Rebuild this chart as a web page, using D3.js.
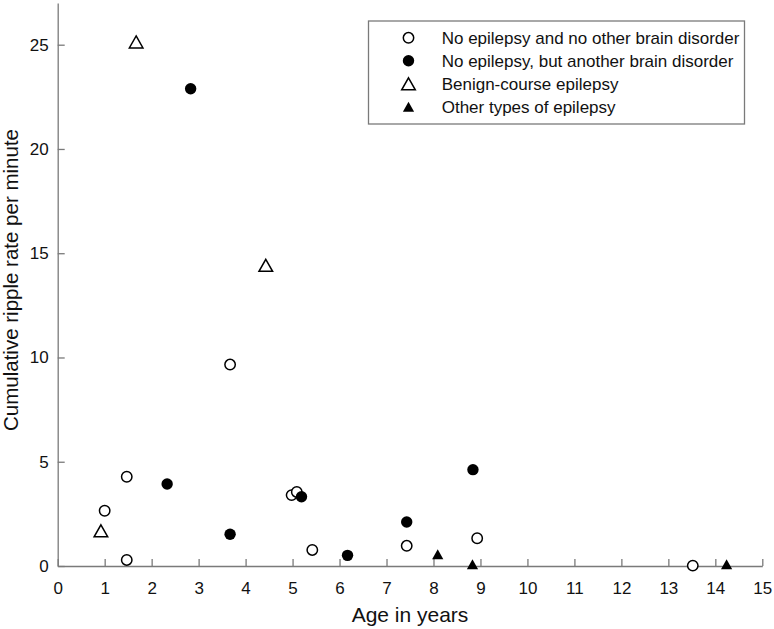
<!DOCTYPE html>
<html>
<head>
<meta charset="utf-8">
<script src="https://cdn.jsdelivr.net/npm/d3@7"></script>
<style>
  body { margin: 0; background: #fff; }
  svg text { font-family: "Liberation Sans", Arial, sans-serif; fill: #111; }
</style>
</head>
<body>
<svg id="chart" width="774" height="629"></svg>
<script>
// groups, in legend order
var groups = [
    "No epilepsy and no other brain disorder",
    "No epilepsy, but another brain disorder",
    "Benign-course epilepsy",
    "Other types of epilepsy"
];

// age in years / cumulative ripple rate per minute, one list per group
var noEpilepsyAge  = [1.0, 1.47, 1.47, 3.67, 4.98, 5.09, 5.42, 7.43, 8.93, 13.52];
var noEpilepsyRate = [2.65, 4.28, 0.29, 9.66, 3.40, 3.55, 0.77, 0.97, 1.33, 0.02];

var brainDisorderAge  = [2.33, 2.83, 3.67, 5.19, 6.17, 7.43, 8.84];
var brainDisorderRate = [3.93, 22.89, 1.52, 3.32, 0.51, 2.11, 4.62];

var benignAge  = [0.92, 1.67, 4.43];
var benignRate = [1.69, 25.13, 14.42];

var otherAge  = [8.09, 8.83, 14.24];
var otherRate = [0.56, 0.08, 0.08];

var xTicks = d3.range(0, 16);
var yTicks = [0, 5, 10, 15, 20, 25];

var svg = d3.select("#chart");
var margin = {left: 57.7, right: 11.7, top: 3, bottom: 63};
var width = 774, height = 629;

var x = d3.scaleLinear().domain([0, 15]).range([margin.left, width - margin.right]);
var y = d3.scaleLinear().domain([0, 27]).range([height - margin.bottom, margin.top]);

// symbol paths (open shapes have a stroke, filled ones none)
function shape(kind) {
    if (kind == "tri-open") return "M0,-6L6.8,6L-6.8,6Z";
    if (kind == "tri-fill") return "M0,-5L5.6,5L-5.6,5Z";
    return null;
}
var styles = [
    {kind: "circle", fill: "#fff", r: 5.2},
    {kind: "circle", fill: "#000", r: 5.7},
    {kind: "tri-open", fill: "#fff"},
    {kind: "tri-fill", fill: "#000"}
];

function drawMarker(g, st) {
    if (st.kind == "circle") {
        g.append("circle").attr("r", st.r)
            .attr("fill", st.fill)
            .attr("stroke", "#000")
            .attr("stroke-width", st.fill == "#fff" ? 1.5 : 0);
    } else {
        g.append("path").attr("d", shape(st.kind))
            .attr("fill", st.fill)
            .attr("stroke", "#000")
            .attr("stroke-width", st.fill == "#fff" ? 1.5 : 0)
            .attr("stroke-linejoin", "miter");
    }
}

// axes
var xAxis = svg.append("g")
    .attr("transform", "translate(0," + y(0) + ")")
    .call(d3.axisBottom(x).tickValues(xTicks).tickSizeInner(-7).tickSizeOuter(0).tickPadding(16));
var yAxis = svg.append("g")
    .attr("transform", "translate(" + x(0) + ",0)")
    .call(d3.axisLeft(y).tickValues(yTicks).tickSizeInner(-7).tickSizeOuter(0).tickPadding(9));

[xAxis, yAxis].forEach(function(a) {
    a.select(".domain").attr("stroke", "#7a7a7a").attr("stroke-width", 1.3);
    a.selectAll(".tick line").attr("stroke", "#7a7a7a").attr("stroke-width", 1.3);
    a.selectAll(".tick text").style("font-size", "17px").attr("fill", "#111");
});

// axis titles
svg.append("text")
    .attr("x", (x(0) + x(15)) / 2)
    .attr("y", 621.5)
    .attr("text-anchor", "middle")
    .style("font-size", "21px")
    .text("Age in years");

svg.append("text")
    .attr("transform", "translate(17.5,280) rotate(-90)")
    .attr("text-anchor", "middle")
    .style("font-size", "20.5px")
    .text("Cumulative ripple rate per minute");

// points
var series = [
    [noEpilepsyAge, noEpilepsyRate],
    [brainDisorderAge, brainDisorderRate],
    [benignAge, benignRate],
    [otherAge, otherRate]
];
series.forEach(function(s, i) {
    s[0].forEach(function(age, j) {
        var g = svg.append("g")
            .attr("transform", "translate(" + x(age) + "," + y(s[1][j]) + ")");
        drawMarker(g, styles[i]);
    });
});

// legend
var legend = svg.append("g");
legend.append("rect")
    .attr("x", 368.5).attr("y", 21)
    .attr("width", 376).attr("height", 103)
    .attr("fill", "#fff")
    .attr("stroke", "#7a7a7a")
    .attr("stroke-width", 1.3);

for (var i = 0; i < groups.length; i++) {
    var base = 44.3 + i * 23;
    var mk = legend.append("g")
        .attr("transform", "translate(408.5," + (base - 6.5) + ")");
    drawMarker(mk, styles[i]);
    legend.append("text")
        .attr("x", 441.7)
        .attr("y", base)
        .style("font-size", "17px")
        .text(groups[i]);
}
</script>
</body>
</html>
